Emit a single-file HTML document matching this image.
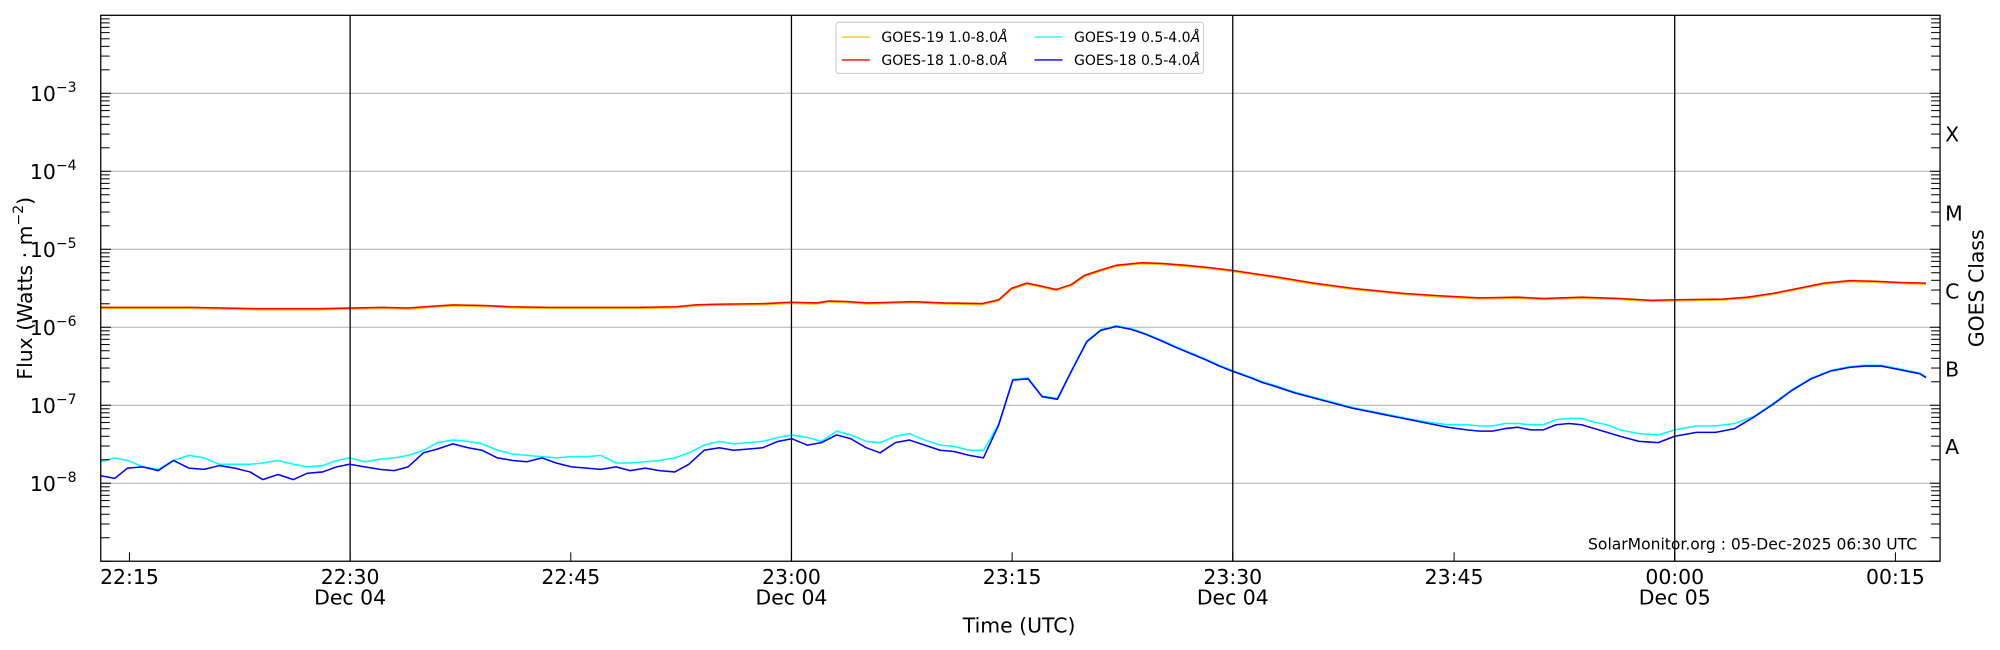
<!DOCTYPE html>
<html><head><meta charset="utf-8"><style>
html,body{margin:0;padding:0;background:#fff;}
svg{display:block;font-family:"DejaVu Sans","Liberation Sans",sans-serif;}
</style></head><body>
<svg id="s" width="2000" height="650" viewBox="0 0 1568 509.6" xmlns="http://www.w3.org/2000/svg">
<rect x="0" y="0" width="1568" height="509.6" fill="#fff"/>
<g id="grid"></g>
<g id="series" fill="none" stroke-width="1.2" stroke-linejoin="round"></g>
<g id="vl" stroke="#000" stroke-width="1"></g>
<rect x="79" y="12" width="1442" height="428" fill="none" stroke="#000" stroke-width="1"/>
<g id="ticks" stroke="#000" stroke-width="0.8"></g>
<g id="labels" font-size="16" fill="#000"></g>
<g font-size="16" fill="#000">
<text x="1525" y="111">X</text>
<text x="1525" y="173">M</text>
<text x="1525" y="234">C</text>
<text x="1525" y="295">B</text>
<text x="1525" y="356">A</text>
<text transform="translate(1555,226) rotate(-90)" text-anchor="middle">GOES Class</text>
<text transform="translate(25,226) rotate(-90)" text-anchor="middle">Flux (Watts · m<tspan font-size="11" dy="-7">−2</tspan><tspan dy="7">)</tspan></text>
<text x="799" y="496" text-anchor="middle">Time (UTC)</text>
</g>
<text x="1503" y="431" font-size="12.2" text-anchor="end">SolarMonitor.org : 05-Dec-2025 06:30 UTC</text>
<g>
<rect x="655.5" y="17.5" width="288" height="40" rx="2" fill="#fff" fill-opacity="0.85" stroke="#ccc" stroke-width="0.8"/>
<line x1="660" y1="29" x2="682" y2="29" stroke="#ffc000" stroke-width="1"/>
<line x1="660" y1="47" x2="682" y2="47" stroke="#ff0000" stroke-width="1"/>
<line x1="811" y1="29" x2="833" y2="29" stroke="#00ffff" stroke-width="1"/>
<line x1="811" y1="47" x2="833" y2="47" stroke="#0000ff" stroke-width="1"/>
<g font-size="11" fill="#000">
<text x="691" y="33">GOES-19 1.0-8.0<tspan font-style="italic">Å</tspan></text>
<text x="691" y="51">GOES-18 1.0-8.0<tspan font-style="italic">Å</tspan></text>
<text x="842" y="33">GOES-19 0.5-4.0<tspan font-style="italic">Å</tspan></text>
<text x="842" y="51">GOES-18 0.5-4.0<tspan font-style="italic">Å</tspan></text>
</g>
</g>
</svg>
<script>
(function(){
const NS="http://www.w3.org/2000/svg";
function el(p,t,a,txt){const e=document.createElementNS(NS,t);for(const k in a)e.setAttribute(k,a[k]);if(txt!==undefined)e.textContent=txt;document.getElementById(p).appendChild(e);return e;}
const T=12,B=440,L=79,R=1521;
const dec=(B-T)/7;
function yv(lg){return B-(lg+9)*dec;}
for(let e=-8;e<=-3;e++){el("grid","line",{x1:L,x2:R,y1:yv(e),y2:yv(e),stroke:"#b0b0b0","stroke-width":0.8});}
for(let e=-9;e<-2;e++){
 for(let k=1;k<=9;k++){
  const y=yv(e+Math.log10(k)); if(y<T-0.1)continue;
  const len=k==1?8:7;
  el("ticks","line",{x1:L,x2:L+len,y1:y,y2:y});
  el("ticks","line",{x1:R,x2:R-len,y1:y,y2:y});
 }
}
for(let e=-8;e<=-3;e++){
 const t=el("labels","text",{x:60,y:yv(e)+6,"text-anchor":"end"},"10");
 const ts=document.createElementNS(NS,"tspan");ts.setAttribute("font-size","11");ts.setAttribute("dy","-7");ts.textContent="−"+(-e);t.appendChild(ts);
}
const xs=[[101.5,"22:15",""],[274.5,"22:30","Dec 04"],[447.5,"22:45",""],[620.5,"23:00","Dec 04"],[793.5,"23:15",""],[966.5,"23:30","Dec 04"],[1140,"23:45",""],[1313,"00:00","Dec 05"],[1486,"00:15",""]];
xs.forEach(function(a){
 const x=a[0];
 el("ticks","line",{x1:x,x2:x,y1:B,y2:B-7});
 el("labels","text",{x:x,y:458,"text-anchor":"middle"},a[1]);
 if(a[2])el("labels","text",{x:x,y:474,"text-anchor":"middle"},a[2]);
});
[274.5,620.5,966.5,1313].forEach(function(x){el("vl","line",{x1:x,x2:x,y1:T,y2:B});});
function path(pts,col,dy){return el("series","path",{d:"M"+pts.map(function(p){return p[0]+","+(p[1]+(dy||0));}).join("L"),stroke:col});}
const red=[[79,241],[150,241],[200,242],[250,242],[300,241],[320,241.5],[340,240],[355,239],[380,239.5],[400,240.5],[430,241],[500,241],[530,240.5],[545,239],[560,238.5],[600,238],[620,237],[640,237.5],[650,236],[665,236.5],[680,237.5],[700,237],[715,236.5],[740,237.5],[770,238],[783,235],[793,226],[805,222],[815,224],[828,227],[840,223],[850,216],[862,212],[875,208],[895,206],[910,206.5],[930,208],[950,210],[966,212],[1000,217],[1030,222],[1060,226],[1100,230],[1130,232],[1160,233.5],[1190,233],[1210,234],[1240,233],[1270,234],[1295,235.5],[1313,235],[1350,234.5],[1370,233],[1390,230],[1410,226],[1430,222],[1450,220],[1470,220.5],[1490,221.5],[1510,222]];
const blue=[[79,373],[90,375],[100,367],[112,366],[124,369],[136,361],[148,367],[160,368],[172,365],[184,367],[196,370],[206,376],[218,372],[230,376],[241,371],[253,370],[264,366],[274,364],[286,366],[298,368],[309,369],[320,366],[332,355],[343,352],[355,348],[367,351],[378,353],[390,359],[402,361],[413,362],[425,359],[436,363],[448,366],[460,367],[471,368],[483,366],[494,369],[506,367],[517,369],[529,370],[540,364],[552,353],[564,351],[575,353],[587,352],[598,351],[610,346],[621,344],[633,349],[644,347],[656,341],[667,344],[679,351],[690,355],[702,347],[713,345],[725,349],[737,353],[748,354],[760,357],[771,359],[783,333],[794,298],[806,297],[817,311],[829,313],[840,291],[852,268],[863,259],[875,256],[886,258],[898,262],[910,267],[921,272],[933,277],[945,282],[956,287],[966,291],[980,296],[990,300],[1000,303],[1015,308],[1030,312],[1045,316],[1060,320],[1075,323],[1090,326],[1105,329],[1120,332],[1135,335],[1150,337],[1160,338],[1170,338],[1180,336],[1190,335],[1200,337],[1210,337],[1220,333],[1230,332],[1240,333],[1250,336],[1260,339],[1270,342],[1285,346],[1300,347],[1313,342],[1330,339],[1345,339],[1360,336],[1375,327],[1390,317],[1405,306],[1420,297],[1435,291],[1450,288],[1462,287],[1475,287],[1490,290],[1505,293],[1510,296]];
const cyanEarly=[[79,362],[90,359],[100,361],[112,366],[124,368],[136,361],[148,357],[160,359],[172,364],[184,364],[196,364],[206,363],[218,361],[230,364],[241,366],[253,365],[264,361],[274,359],[286,362],[298,360],[309,359],[320,357],[332,353],[343,347],[355,345],[367,346],[378,348],[390,353],[402,356],[413,357],[425,358],[436,359],[448,358],[460,358],[471,357],[483,363],[494,363],[506,362],[517,361],[529,359],[540,355],[552,349],[564,346],[575,348],[587,347],[598,346],[610,343],[621,341],[633,343],[644,346],[656,338],[667,341],[679,346],[690,347],[702,342],[713,340],[725,345],[737,349],[748,350],[760,353],[771,353]];
const cyanFix={1120:331,1135:333,1150:333,1160:334,1170:334,1180:332,1190:332,1200:333,1210:333,1220:329,1230:328,1240:328,1250:331,1260:333,1270:337,1285:340,1300:341,1313:337,1330:334,1345:334,1360:332};
const cyan=cyanEarly.concat(blue.filter(function(p){return p[0]>=783;}).map(function(p){return [p[0],cyanFix[p[0]]!==undefined?cyanFix[p[0]]:p[1]-0.6];}));
path(red,"#ffc000",0.8);
path(red,"#ff0000",0);
path(cyan,"#00ffff",0);
path(blue,"#0000ff",0);
})();
</script>
</body></html>
